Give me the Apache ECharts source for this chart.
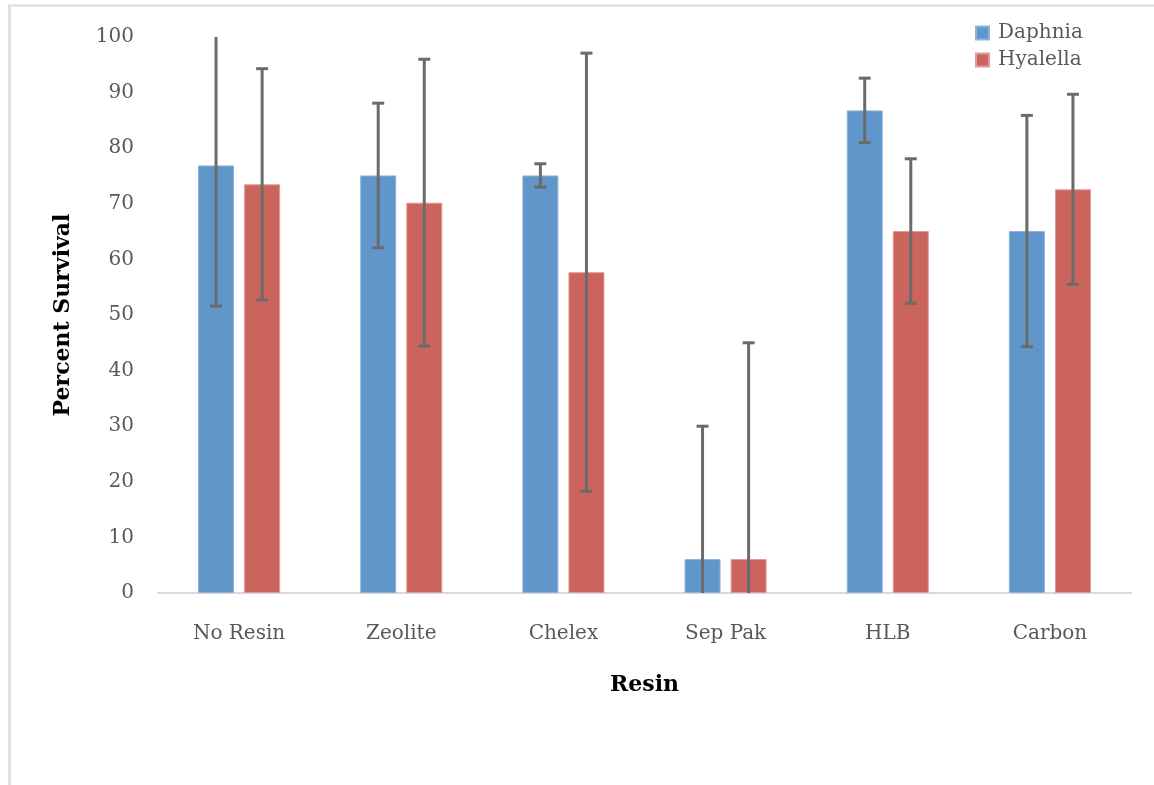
<!DOCTYPE html>
<html>
<head>
<meta charset="utf-8">
<script src="https://cdn.jsdelivr.net/npm/echarts@6/dist/echarts.min.js"></script>
<style>html,body{margin:0;padding:0;background:#fff;}#c{width:1154px;height:785px;}</style>
</head>
<body>
<div id="c"></div>
<script>
const categories = ['No Resin', 'Zeolite', 'Chelex', 'Sep Pak', 'HLB', 'Carbon'];
const daphnia = [76.9, 75.1, 75.1, 6.1, 86.8, 65.1];
const daphniaErr = [25.3, 13.0, 2.1, 23.9, 5.8, 20.8];
const hyalella = [73.5, 70.2, 57.7, 6.1, 65.1, 72.6];
const hyalellaErr = [20.8, 25.8, 39.4, 38.9, 13.0, 17.1];
const yTicks = [0, 10, 20, 30, 40, 50, 60, 70, 80, 90, 100];

const FONT = 'DejaVu Serif';
const BAR_W = 0.222;   // fraction of category band
const BAR_GAP = 0.28;  // fraction of bar width

function errSeries(vals, errs, sign) {
  return {
    type: 'custom',
    clip: true,
    z: 5,
    data: vals.map((v, i) => [i, v, errs[i]]),
    renderItem: function (params, api) {
      const band = api.size([1, 0])[0];
      const off = sign * band * BAR_W * (1 + BAR_GAP) / 2;
      const c = api.value(0);
      const v = api.value(1);
      const e = api.value(2);
      const top = api.coord([c, v + e]);
      const bot = api.coord([c, v - e]);
      const x = top[0] + off;
      const cap = 6;
      const style = { stroke: '#6B6B6B', lineWidth: 3 };
      return {
        type: 'group',
        children: [
          { type: 'line', shape: { x1: x, y1: top[1], x2: x, y2: bot[1] }, style: style },
          { type: 'line', shape: { x1: x - cap, y1: top[1], x2: x + cap, y2: top[1] }, style: style },
          { type: 'line', shape: { x1: x - cap, y1: bot[1], x2: x + cap, y2: bot[1] }, style: style }
        ]
      };
    }
  };
}

const chart = echarts.init(document.getElementById('c'), null, { renderer: 'canvas' });
chart.setOption({
  animation: false,
  backgroundColor: '#ffffff',
  graphic: [
    { type: 'line', shape: { x1: 9.5, y1: 4.5, x2: 9.5, y2: 785 },
      style: { stroke: '#DCDCDC', lineWidth: 2.5 } },
    { type: 'line', shape: { x1: 8.5, y1: 5.5, x2: 1154, y2: 5.5 },
      style: { stroke: '#DCDCDC', lineWidth: 2 } }
  ],
  grid: { left: 158, right: 23, top: 37, bottom: 192, containLabel: false },
  legend: {
    orient: 'vertical',
    left: 970,
    top: 18,
    itemWidth: 13,
    itemHeight: 13,
    itemGap: 7,
    icon: 'rect',
    textStyle: { fontFamily: FONT, fontSize: 20, color: '#595959', padding: [0, 0, 0, 4] },
    data: ['Daphnia', 'Hyalella']
  },
  xAxis: {
    type: 'category',
    data: categories,
    name: 'Resin',
    nameLocation: 'middle',
    nameGap: 81,
    nameTextStyle: { fontFamily: FONT, fontSize: 22, fontWeight: 'bold', color: '#000' },
    axisLine: { lineStyle: { color: '#D9D9D9', width: 2 } },
    axisTick: { show: false },
    axisLabel: { fontFamily: FONT, fontSize: 20, color: '#595959', margin: 31 },
    splitLine: { show: false }
  },
  yAxis: {
    type: 'value',
    min: 0,
    max: 100,
    interval: 10,
    name: 'Percent Survival',
    nameLocation: 'middle',
    nameGap: 84,
    nameTextStyle: { fontFamily: FONT, fontSize: 22, fontWeight: 'bold', color: '#000' },
    axisLine: { show: false },
    axisTick: { show: false },
    splitLine: { show: false },
    axisLabel: {
      fontFamily: FONT, fontSize: 20, color: '#595959', margin: 24,
      formatter: function (v) { return yTicks.indexOf(v) >= 0 ? String(v) : ''; }
    }
  },
  series: [
    {
      name: 'Daphnia', type: 'bar', data: daphnia,
      barWidth: (BAR_W * 100) + '%', barGap: (BAR_GAP * 100) + '%',
      itemStyle: { color: '#6096C9', borderColor: '#8DB3DB', borderWidth: 1 }
    },
    {
      name: 'Hyalella', type: 'bar', data: hyalella,
      barWidth: (BAR_W * 100) + '%', barGap: (BAR_GAP * 100) + '%',
      itemStyle: { color: '#CC645E', borderColor: '#DE9A96', borderWidth: 1 }
    },
    errSeries(daphnia, daphniaErr, -1),
    errSeries(hyalella, hyalellaErr, 1)
  ]
});
</script>
</body>
</html>
